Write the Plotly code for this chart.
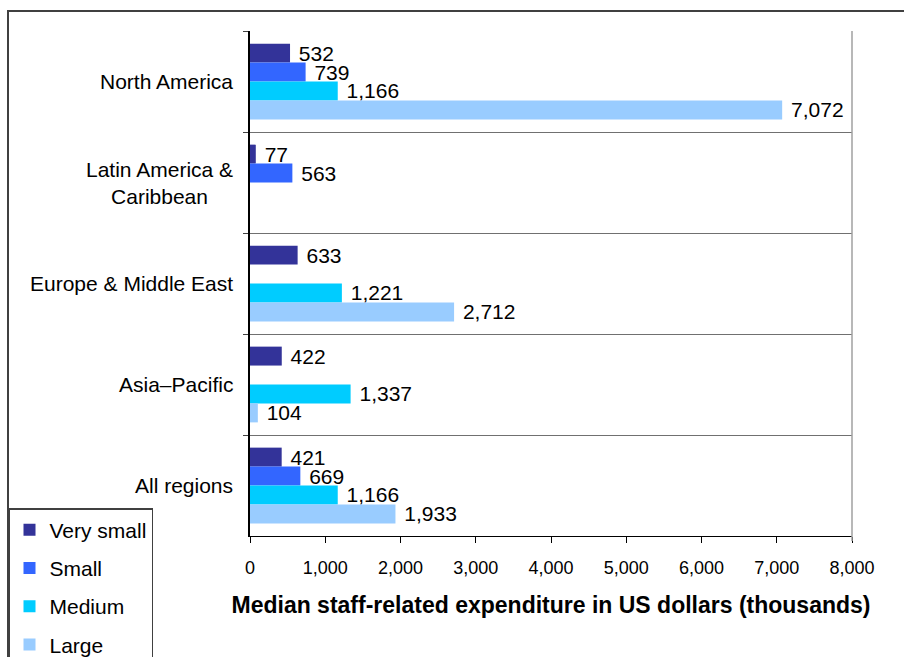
import plotly.graph_objects as go

regions = ["North America", "Latin America &<br>Caribbean", "Europe & Middle East",
           "Asia\u2013Pacific", "All regions"]
sizes = ["Very small", "Small", "Medium", "Large"]
very_small = [532, 77, 633, 422, 421]
small = [739, 563, None, None, 669]
medium = [1166, None, 1221, 1337, 1166]
large = [7072, None, 2712, 104, 1933]
x_ticks = [0, 1000, 2000, 3000, 4000, 5000, 6000, 7000, 8000]
x_title = "Median staff-related expenditure in US dollars (thousands)"

series = [very_small, small, medium, large]
colors = ["#333399", "#3366FF", "#00CCFF", "#99CCFF"]

FONT = "Arial, Liberation Sans, sans-serif"
W, H = 904, 657
ML, MR, MT, MB = 250, 52, 31, 121
PW, PH = W - ML - MR, H - MT - MB


def px_x(p):
    return (p - ML) / PW


def px_y(p):
    return (H - MB - p) / PH


fig = go.Figure()
for name, vals, col in zip(sizes, series, colors):
    fig.add_trace(go.Bar(
        name=name, y=regions, x=vals, orientation="h",
        marker=dict(color=col, line=dict(width=0)),
        text=[None if v is None else "\u00a0" + f"{v:,}" for v in vals],
        textposition="outside", constraintext="none", cliponaxis=False,
        textfont=dict(family=FONT, size=21, color="black"),
        legendgroup=name,
    ))

# category labels, centred line by line
for r in regions:
    fig.add_annotation(
        x=px_x(235), xref="paper", y=r, yref="y", text=r, showarrow=False,
        xanchor="right", yanchor="middle", align="center",
        font=dict(family=FONT, size=21, color="black"),
    )

# outer chart frame and right plot border
fig.add_shape(type="rect", xref="paper", yref="paper",
              x0=px_x(8), x1=px_x(915), y0=px_y(670), y1=px_y(11),
              line=dict(color="#404040", width=2), fillcolor="rgba(0,0,0,0)", layer="below")
fig.add_shape(type="line", xref="paper", yref="paper",
              x0=1, x1=1, y0=px_y(541), y1=1,
              line=dict(color="#A0A0A0", width=1.5))

fig.update_layout(
    width=W, height=H, margin=dict(l=ML, r=MR, t=MT, b=MB, autoexpand=False),
    paper_bgcolor="white", plot_bgcolor="white",
    barmode="group", bargap=0.25, bargroupgap=0,
    font=dict(family=FONT, size=18, color="black"),
    showlegend=True,
    legend=dict(
        x=px_x(8), y=px_y(508), xanchor="left", yanchor="top",
        xref="paper", yref="paper",
        bordercolor="#404040", borderwidth=1.5, bgcolor="white",
        font=dict(family=FONT, size=21, color="black"),
        traceorder="grouped", tracegroupgap=8, itemwidth=30,
    ),
    xaxis=dict(
        range=[0, 8000], tickvals=x_ticks, tickformat=",",
        showgrid=False, zeroline=False, showline=True, linecolor="black", linewidth=1,
        ticks="outside", ticklen=6, tickcolor="black",
        ticklabelstandoff=9,
        tickfont=dict(family=FONT, size=18, color="black"),
        title=dict(text="<b>" + x_title + "</b>", standoff=20,
                   font=dict(family=FONT, size=23, color="black")),
    ),
    yaxis=dict(
        type="category", categoryorder="array", categoryarray=regions,
        autorange="reversed", tickson="boundaries",
        showgrid=True, gridcolor="#707070", gridwidth=1,
        showline=True, linecolor="black", linewidth=1.5,
        ticks="outside", ticklen=5, tickcolor="#404040",
        showticklabels=False, zeroline=False,
    ),
)

fig.write_html("out.html")
